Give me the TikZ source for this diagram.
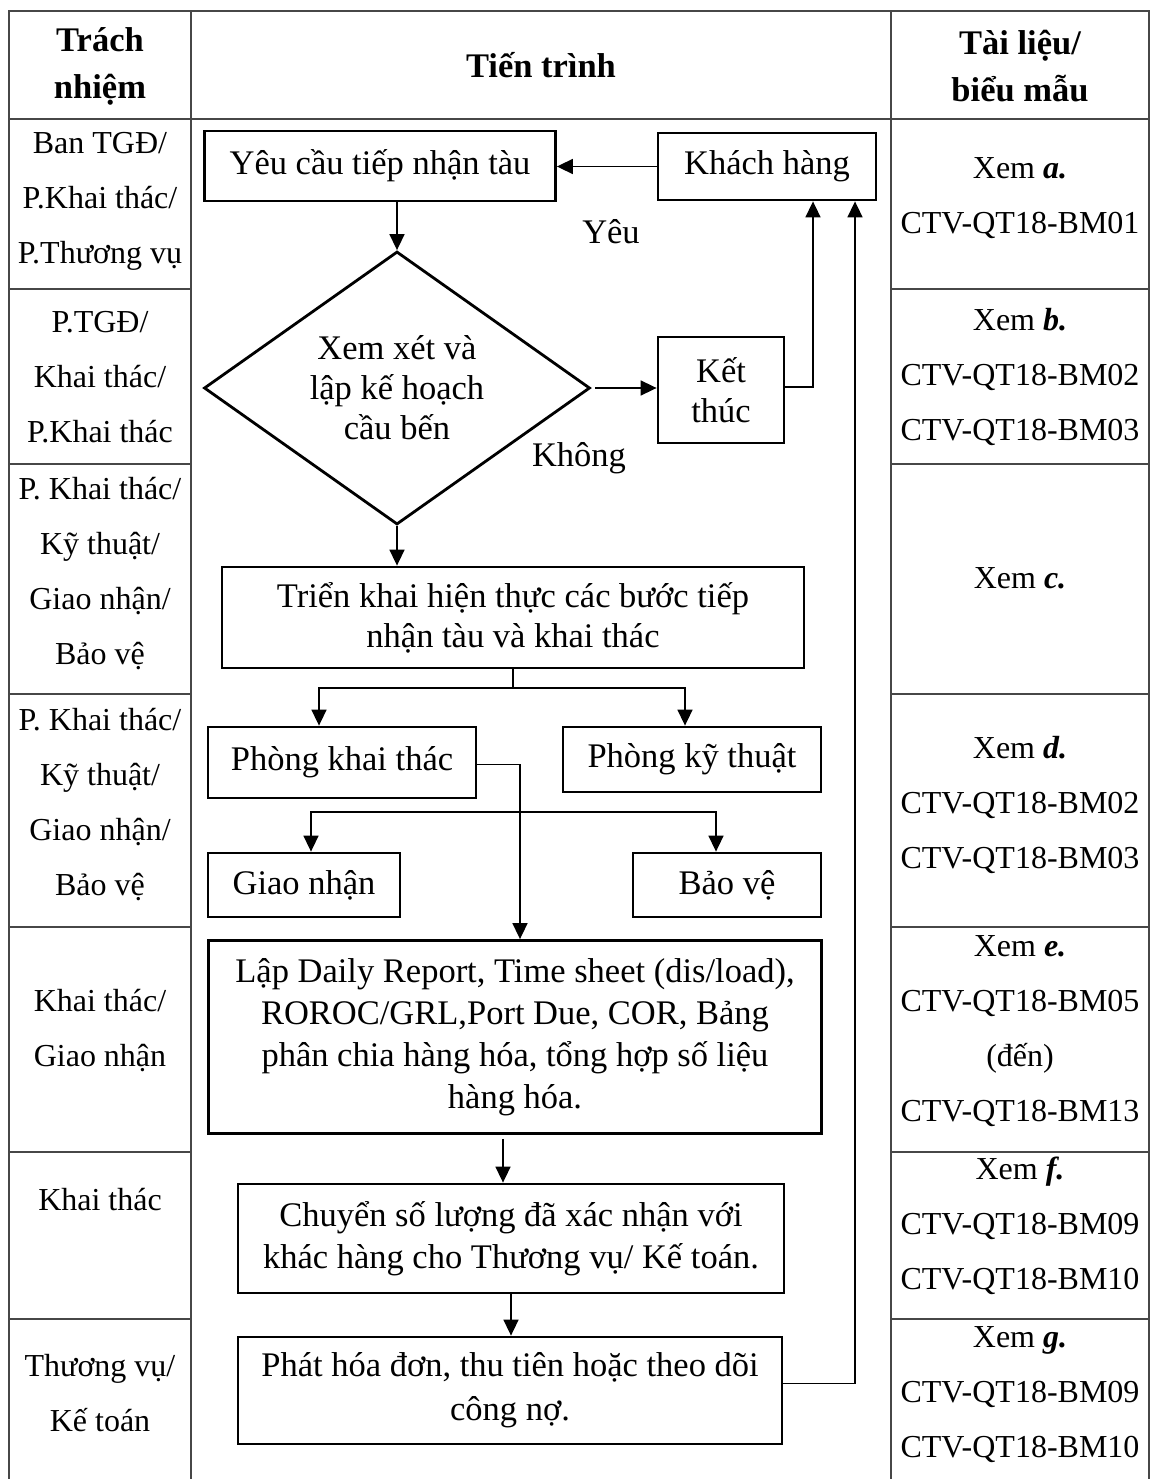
\documentclass[tikz,border=0pt]{standalone}
\usepackage{fontspec}
\setmainfont{Liberation Serif}
\usetikzlibrary{shapes.geometric,arrows.meta}

\begin{document}
\begin{tikzpicture}[x=1pt,y=-1pt,
  gridline/.style={draw=black!72, line width=1.8pt},
  cell/.style={align=center, font=\fontsize{32}{55}\selectfont, inner sep=0pt},
  head/.style={align=center, font=\bfseries\fontsize{34.5}{47}\selectfont, inner sep=0pt},
  flowbox/.style={draw=black, line width=2.8pt, rectangle, inner sep=0pt, align=center,
                  font=\fontsize{34.5}{41.5}\selectfont},
  conn/.style={draw=black, line width=1.6pt, -{Triangle[length=16pt,width=15pt]}},
  plain/.style={draw=black, line width=1.6pt},
  lbl/.style={font=\fontsize{34.5}{41.5}\selectfont, inner sep=0pt}]

\useasboundingbox (0,0) rectangle (1151,1479);

% ---- table grid ----
\draw[gridline] (9,1479) -- (9,11) -- (1149,11) -- (1149,1479);
\draw[gridline] (191,11) -- (191,1479);
\draw[gridline] (891,11) -- (891,1479);
\draw[gridline] (9,119) -- (1149,119);
\foreach \yy in {289,464,694,927,1152,1319} {
  \draw[gridline] (9,\yy) -- (191,\yy);
  \draw[gridline] (891,\yy) -- (1149,\yy);
}

% ---- header ----
\node[head] (h1) at (100,66) {Trách\\nhiệm};
\node[head] (h2) at (541,65) {Tiến trình};
\node[head] (h3) at (1020,66) {Tài liệu/\\biểu mẫu};

% ---- responsibility column ----
\node[cell] (r1) at (100,201) {Ban TGĐ/\\P.Khai thác/\\P.Thương vụ};
\node[cell] (r2) at (100,377) {P.TGĐ/\\Khai thác/\\P.Khai thác};
\node[cell] (r3) at (100,574) {P. Khai thác/\\Kỹ thuật/\\Giao nhận/\\Bảo vệ};
\node[cell] (r4) at (100,805) {P. Khai thác/\\Kỹ thuật/\\Giao nhận/\\Bảo vệ};
\node[cell] (r5) at (100,1031) {Khai thác/\\Giao nhận};
\node[cell] (r6) at (100,1200) {Khai thác};
\node[cell] (r7) at (100,1393) {Thương vụ/\\Kế toán};

% ---- documents column ----
\node[cell] (d1) at (1020,198) {Xem \textbf{\textit{a.}}\\CTV-QT18-BM01};
\node[cell] (d2) at (1020,377) {Xem \textbf{\textit{b.}}\\CTV-QT18-BM02\\CTV-QT18-BM03};
\node[cell] (d3) at (1020,578) {Xem \textbf{\textit{c.}}};
\node[cell] (d4) at (1020,805) {Xem \textbf{\textit{d.}}\\CTV-QT18-BM02\\CTV-QT18-BM03};
\node[cell] (d5) at (1020,1031) {Xem \textbf{\textit{e.}}\\CTV-QT18-BM05\\(đến)\\CTV-QT18-BM13};
\node[cell] (d6) at (1020,1226) {Xem \textbf{\textit{f.}}\\CTV-QT18-BM09\\CTV-QT18-BM10};
\node[cell] (d7) at (1020,1395) {Xem \textbf{\textit{g.}}\\CTV-QT18-BM09\\CTV-QT18-BM10};

% ---- process boxes ----
\node[flowbox, minimum width=351pt, minimum height=70pt] (yeu) at (380,166) {Yêu cầu tiếp nhận tàu};
\node[flowbox, minimum width=218pt, minimum height=67pt] (kh) at (767,166.5) {Khách hàng};
\node[draw=black, line width=2.8pt, shape=diamond, aspect=1.41, inner sep=0pt,
      minimum width=386pt, minimum height=273pt, align=center,
      font=\fontsize{34.5}{40}\selectfont] (xet) at (397,388) {Xem xét và\\lập kế hoạch\\cầu bến};
\node[flowbox, minimum width=126pt, minimum height=106pt, font=\fontsize{34.5}{40}\selectfont] (kt) at (721,390) {Kết\\thúc};
\node[flowbox, minimum width=582pt, minimum height=101pt, font=\fontsize{34.5}{40}\selectfont] (tk) at (513,617.5) {Triển khai hiện thực các bước tiếp\\nhận tàu và khai thác};
\node[flowbox, minimum width=268pt, minimum height=71pt] (pkt) at (342,762.5) {Phòng khai thác};
\node[flowbox, minimum width=258pt, minimum height=65pt] (pky) at (692,759.5) {Phòng kỹ thuật};
\node[flowbox, minimum width=192pt, minimum height=64pt] (gn) at (304,885) {Giao nhận};
\node[flowbox, minimum width=188pt, minimum height=64pt] (bv) at (727,885) {Bảo vệ};
\node[flowbox, minimum width=613pt, minimum height=193pt, font=\fontsize{34.5}{42}\selectfont] (lap) at (515,1037)
  {Lập Daily Report, Time sheet (dis/load),\\ROROC/GRL,Port Due, COR, Bảng\\phân chia hàng hóa, tổng hợp số liệu\\hàng hóa.};
\node[flowbox, minimum width=546pt, minimum height=109pt, font=\fontsize{34.5}{42}\selectfont] (ch) at (511,1238.5)
  {Chuyển số lượng đã xác nhận với\\khác hàng cho Thương vụ/ Kế toán.};
\node[flowbox, minimum width=544pt, minimum height=107pt, font=\fontsize{34.5}{44}\selectfont] (phat) at (510,1390.5)
  {Phát hóa đơn, thu tiên hoặc theo dõi\\công nợ.};

% ---- branch labels ----
\node[lbl] (yes) at (611,232) {Yêu};
\node[lbl] (no) at (579,458) {Không};

% ---- routing columns ----
\coordinate (kcol) at (813,0);
\coordinate (rcol) at (855,0);
\coordinate (split) at (513,688);
\coordinate (pa) at (319,0);
\coordinate (pb) at (685,0);
\coordinate (vcol) at (520,0);
\coordinate (cross) at (520,812);
\coordinate (ga) at (311,0);
\coordinate (gc) at (716,0);
\coordinate (lc) at (503,0);

% ---- connectors ----
\draw[conn] (kh.west) -- (kh.west -| yeu.east);
\draw[conn] (yeu.south -| xet.north) -- (xet.north);
\draw[conn] ([xshift=4pt]xet.east) -- (xet.east -| kt.west);
\draw[conn] ([yshift=3pt]kt.east) -| (kcol |- kh.south);
\draw[conn] ([yshift=7pt]phat.east) -| (rcol |- kh.south);
\draw[conn] (xet.south) -- (xet.south |- tk.north);
\draw[plain] (tk.south) -- (split);
\draw[conn] (split) -| (pa |- pkt.north);
\draw[conn] (split) -| (pb |- pky.north);
\draw[conn] ([yshift=-2pt]pkt.east) -| (vcol |- lap.north);
\draw[conn] (cross) -| (ga |- gn.north);
\draw[conn] (cross) -| (gc |- bv.north);
\draw[conn] ([yshift=-4pt]lc |- lap.south) -- (lc |- ch.north);
\draw[conn] (ch.south) -- (ch.south |- phat.north);

\end{tikzpicture}
\end{document}
